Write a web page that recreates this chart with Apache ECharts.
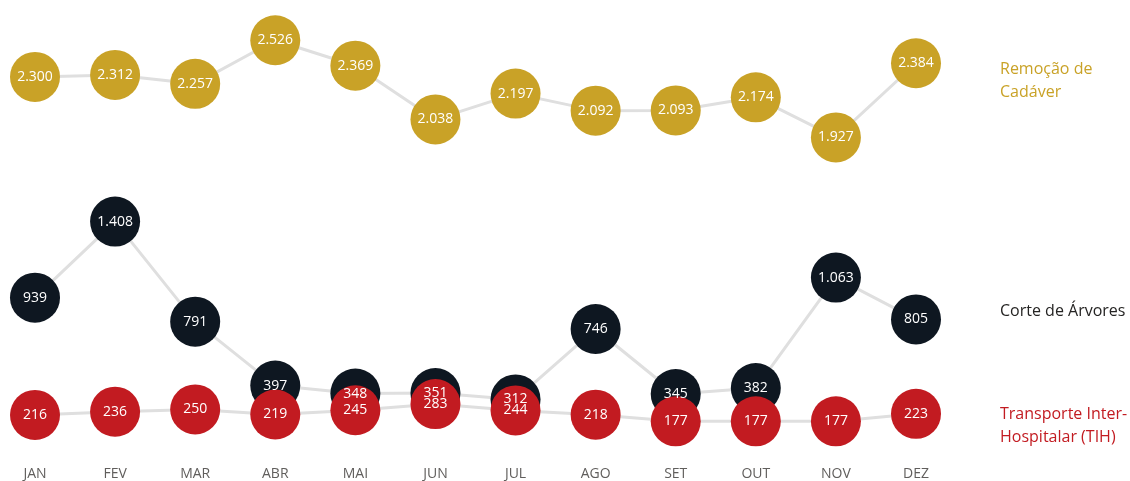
<!DOCTYPE html>
<html>
<head>
<meta charset="utf-8">
<script src="https://cdn.jsdelivr.net/npm/echarts@6/dist/echarts.min.js"></script>
<style>
  html, body { margin: 0; padding: 0; background: #fff; }
  #main { width: 1130px; height: 481px; }
</style>
</head>
<body>
<div id="main"></div>
<script>
var meses = ['JAN', 'FEV', 'MAR', 'ABR', 'MAI', 'JUN', 'JUL', 'AGO', 'SET', 'OUT', 'NOV', 'DEZ'];
var remocao = [2300, 2312, 2257, 2526, 2369, 2038, 2197, 2092, 2093, 2174, 1927, 2384];
var corte = [939, 1408, 791, 397, 348, 351, 312, 746, 345, 382, 1063, 805];
var transporte = [216, 236, 250, 219, 245, 283, 244, 218, 177, 177, 177, 223];

// 2300 -> "2.300"
function fmt(p) {
  return String(p.value).replace(/\B(?=(\d{3})+(?!\d))/g, '.');
}

var fonte = "'Open Sans', 'Noto Sans', sans-serif";

function serie(nome, dados, cor, z, comRotulo) {
  return {
    name: nome,
    type: 'line',
    data: dados,
    z: z,
    symbol: 'circle',
    symbolSize: 50,
    itemStyle: { color: cor },
    lineStyle: { color: '#dfdfdf', width: 3 },
    label: {
      show: comRotulo,
      position: 'inside',
      color: '#fff',
      fontSize: 14,
      fontFamily: fonte,
      formatter: fmt
    },
    emphasis: { disabled: true },
    animation: false
  };
}

var myChart = echarts.init(document.getElementById('main'));
var option = {
  backgroundColor: '#fff',
  grid: { left: 35, right: 214, top: 12, bottom: 30 },
  xAxis: {
    type: 'category',
    boundaryGap: false,
    data: meses,
    axisLine: { show: false },
    axisTick: { show: false },
    axisLabel: { color: '#605e5c', fontSize: 14, fontFamily: fonte, margin: 17 }
  },
  yAxis: {
    type: 'value',
    min: 0,
    max: 2700,
    show: false,
    splitLine: { show: false }
  },
  series: [
    serie('Remoção de Cadáver', remocao, '#c9a227', 2, true),
    serie('Corte de Árvores', corte, '#0e1721', 2, false),
    serie('Transporte Inter-Hospitalar (TIH)', transporte, '#c21b21', 3, true),
    {
      // rótulos do Corte de Árvores por cima dos círculos vermelhos
      type: 'scatter',
      data: corte,
      z: 5,
      symbolSize: 1,
      silent: true,
      itemStyle: { opacity: 0 },
      label: {
        show: true,
        position: 'inside',
        color: '#fff',
        opacity: 1,
        fontSize: 14,
        fontFamily: fonte,
        formatter: fmt
      },
      animation: false
    }
  ],
  graphic: [
    {
      type: 'text', left: 1000, top: 58,
      style: { text: 'Remoção de\nCadáver', fill: '#c9a227', font: "16px 'Open Sans', sans-serif", lineHeight: 23 }
    },
    {
      type: 'text', left: 1000, top: 300,
      style: { text: 'Corte de Árvores', fill: '#252423', font: "16px 'Open Sans', sans-serif", lineHeight: 23 }
    },
    {
      type: 'text', left: 1000, top: 403,
      style: { text: 'Transporte Inter-\nHospitalar (TIH)', fill: '#c21b21', font: "16px 'Open Sans', sans-serif", lineHeight: 23 }
    }
  ]
};
myChart.setOption(option);
</script>
</body>
</html>
